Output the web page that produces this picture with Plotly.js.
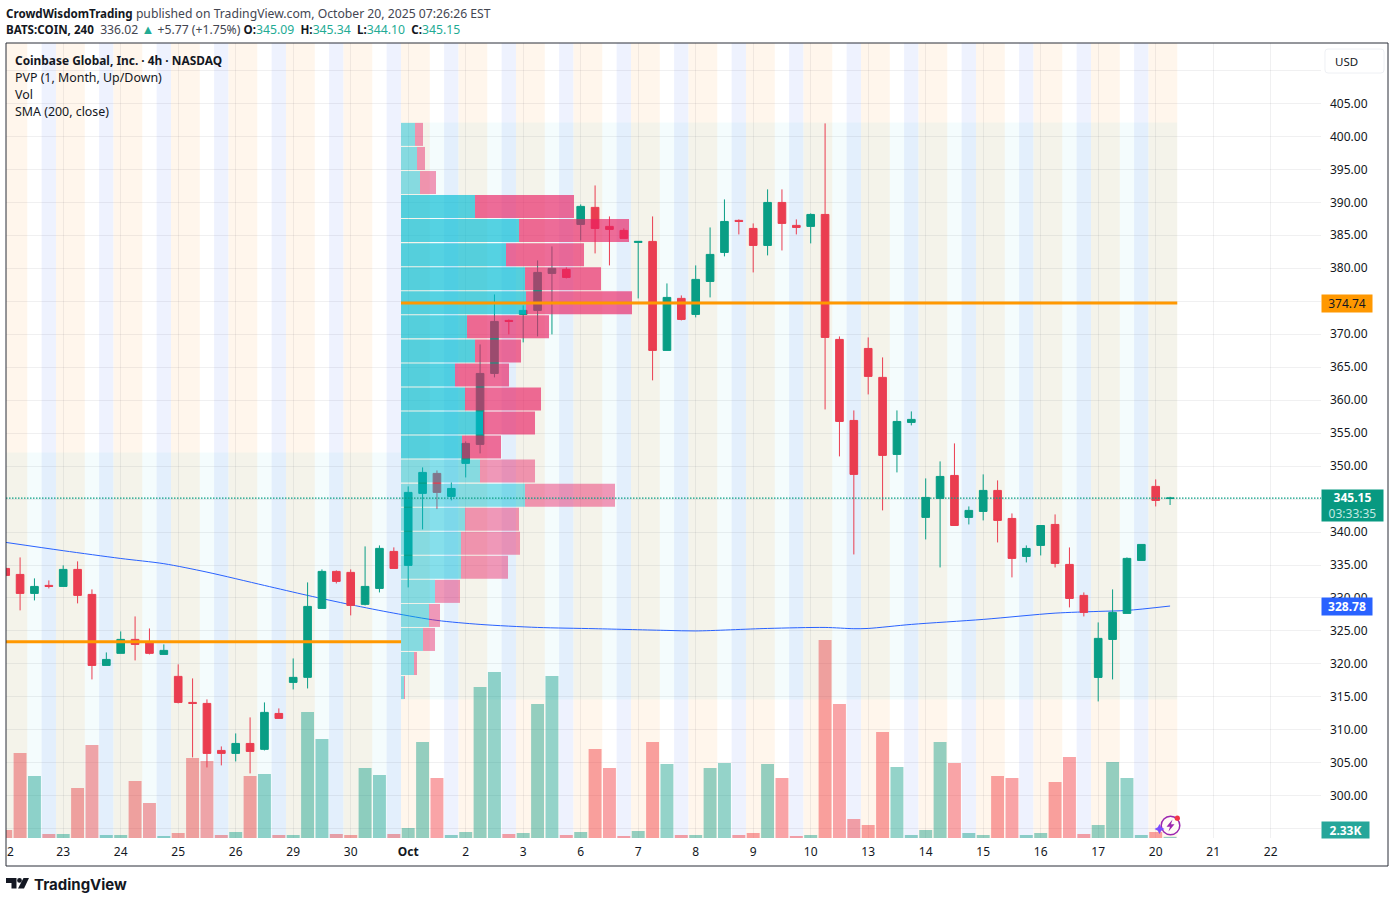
<!DOCTYPE html>
<html><head><meta charset="utf-8">
<script src="https://cdn.plot.ly/plotly-3.0.1.min.js"></script>
<style>html,body{margin:0;padding:0;background:#fff}#c{width:1394px;height:903px}</style></head>
<body><div id="c"></div>
<script>
var barIndex = [];
for (var n = 0; n < 82; n++) barIndex.push(n);
var opens  = [334.48,333.57,330.69,331.91,331.75,334.33,330.54,319.77,321.6,323.72,323.26,321.44,318.11,314.16,314.01,306.88,306.43,307.94,307.04,312.49,317.2,317.96,328.42,334.03,333.88,329.03,331.45,337.06,
334.94,345.86,348.89,345.4,350.41,353.29,364.05,372.09,373.0,373.61,379.22,379.83,386.65,389.23,386.35,385.74,383.92,384.07,367.54,375.43,373.0,378.0,382.4,387.26,386.04,383.46,389.98,386.5,386.35,388.16,
369.21,356.92,367.84,363.45,351.77,356.62,342.22,345.1,348.58,342.22,343.12,346.31,342.06,336.3,337.97,341.15,335.09,330.39,317.95,323.71,327.66,335.69,346.92,345.09];
var highs  = [334.6,336.15,332.97,332.66,334.94,335.55,331.3,321.74,324.93,327.2,325.38,322.96,319.93,317.8,314.62,307.49,309.46,311.89,314.16,313.25,320.83,332.36,334.33,334.18,334.33,337.82,337.97,337.67,
346.92,349.8,349.34,347.52,353.74,368.45,376.03,372.24,374.37,381.19,383.31,380.13,389.68,392.56,387.86,386.05,384.07,387.86,377.7,375.88,380.43,386.19,390.44,387.41,386.8,391.96,391.96,387.41,388.32,401.97,
369.66,358.44,369.51,366.48,358.44,358.29,348.13,350.71,353.44,343.88,348.74,347.83,342.82,337.97,340.99,342.67,337.66,330.84,326.29,331.3,336.15,338.12,347.98,345.34];
var lows   = [333.3,328.12,329.63,331.45,331.75,329.18,317.65,319.77,321.6,320.53,321.44,321.44,314.01,305.82,304.3,304.61,305.21,303.4,306.88,311.74,316.13,316.28,328.42,332.2,327.36,328.87,330.84,334.48,
331.6,340.4,343.48,344.8,348.28,351.92,363.45,369.97,368.76,369.67,369.97,378.46,384.22,382.25,380.43,384.53,375.43,363.0,367.54,372.09,372.55,375.58,381.8,385.13,379.37,381.95,382.7,385.13,383.77,358.59,
351.47,336.6,360.87,343.28,349.04,356.17,338.88,334.63,340.99,341.15,341.76,338.42,333.12,335.39,336.45,334.63,328.57,327.2,314.31,317.65,327.66,335.69,346.92,344.1];
var closes = [333.42,330.69,331.75,331.75,334.33,330.39,319.77,320.68,323.72,322.96,321.6,322.05,314.16,314.01,306.43,306.43,307.94,306.73,312.65,311.74,317.96,328.72,334.03,332.51,328.87,331.75,337.52,334.48,
346.01,349.04,346.01,346.61,353.44,364.05,371.94,371.94,373.61,379.37,379.98,378.61,389.38,386.04,385.89,384.53,384.07,367.54,375.58,372.24,378.31,382.1,387.1,387.1,383.46,389.98,386.8,386.19,388.16,369.51,
356.77,348.74,363.6,351.62,356.77,357.08,345.25,348.43,340.99,343.28,346.31,341.76,336.0,337.51,340.99,335.24,329.93,327.81,323.87,327.81,336.0,338.12,344.79,345.15];
var volumesK = [16,170,124,8,8,100,186,6,6,114,70,4,10,160,154,6,12,124,128,6,6,252,198,8,6,140,126,8,
20,192,120,6,12,302,332,8,10,268,324,6,12,178,140,4,14,192,148,6,6,140,150,6,10,148,120,4,6,396,268,38,26,212,142,6,16,192,150,10,6,124,120,6,10,112,162,8,26,152,120,6,12,2.33];
lows[80]=343.88; highs[80]=347.98;
var smaBars   = [0,4,8,11,14,18,21,24,27,30,33,37,41,46,48,53,57,59,60,63,68,73,76,78,81];
var smaValues = [338.43,337.17,335.99,335.2,333.92,331.9,330.39,328.98,327.7,326.6,325.99,325.53,325.34,325.08,325.0,325.38,325.53,325.34,325.38,325.99,326.75,327.7,327.96,328.11,328.78];
var profilePrices = [400.3,396.65,393.0,389.36,385.71,382.06,378.42,374.77,371.12,367.47,363.83,360.18,356.53,352.89,349.24,345.59,341.94,338.3,334.65,331.0,327.35,323.71,320.06,316.41];
var profileUp   = [14,16,19,74,118,105,124,125,66,74,54,64,82,61,79,124,64,60,60,34,28,22,13,3];
var profileDown = [8,8,16,99,110,78,76,106,82,46,54,76,52,39,55,90,54,59,47,25,11,12,3,1];
var valueAreaRows = [3,4,5,6,7,8,9,10,11,12,13];
var pocLevels = {previous:323.37, current:374.74};
var lastPrice = 345.15, lastSma = 328.78;
var dayTickBars = [4,8,12,16,20,24,28,32,36,40,44,48,52,56,60,64,68,72,76,80,84,88];
var dayTickLabels = ['23','24','25','26','29','30','<b>Oct</b>','2','3','6','7','8','9','10','13','14','15','16','17','20','21','22'];
var priceTicks = [295,300,305,310,315,320,325,330,335,340,345,350,355,360,365,370,375,380,385,390,395,400,405,410];
var priceLabels = ['','300.00','305.00','310.00','315.00','320.00','325.00','330.00','335.00','340.00','','350.00','355.00','360.00','365.00','370.00','','380.00','385.00','390.00','395.00','400.00','405.00',''];

var UP='#099E85', DOWN='#EA3D50', FONT='"Noto Sans", sans-serif', INK='#131722';
var PLOT_L=6, PLOT_R=1321, PLOT_T=43, PLOT_B=838, BAR_PX=14.375;
var xRange=[(PLOT_L-5.7)/BAR_PX,(PLOT_R-5.7)/BAR_PX];
var priceRange=[293.6,414.16];
var volRange=[0,1590];
function ax(x){return (x-PLOT_L)/(PLOT_R-PLOT_L);}
function ay(y){return (PLOT_B-y)/(PLOT_B-PLOT_T);}
function P(pts,close){
  return pts.map(function(p,i){return (i?'L':'M')+ax(p[0]).toFixed(5)+','+ay(p[1]).toFixed(5);}).join(' ')+(close?' Z':'');
}
function roundRect(x0,y0,x1,y1,r){
  function c(x,y){return ax(x).toFixed(5)+','+ay(y).toFixed(5);}
  return 'M'+c(x0+r,y0)+' L'+c(x1-r,y0)+' Q'+c(x1,y0)+' '+c(x1,y0+r)+' L'+c(x1,y1-r)+' Q'+c(x1,y1)+' '+c(x1-r,y1)+' L'+c(x0+r,y1)+' Q'+c(x0,y1)+' '+c(x0,y1-r)+' L'+c(x0,y0+r)+' Q'+c(x0,y0)+' '+c(x0+r,y0)+' Z';
}
function circle(cx,cy,r){
  return {type:'circle',xref:'paper',yref:'paper',x0:ax(cx-r),x1:ax(cx+r),y0:ay(cy+r),y1:ay(cy-r)};
}

var shapes=[];
for (var d=0;d<=80;d+=4){
  shapes.push({type:'rect',layer:'below',xref:'x',yref:'paper',x0:d-0.5,x1:d+1.5,y0:0,y1:1,fillcolor:'#FFF6EC',line:{width:0}});
  if(d<80) shapes.push({type:'rect',layer:'below',xref:'x',yref:'paper',x0:d+2.5,x1:d+3.5,y0:0,y1:1,fillcolor:'#EEF2FE',line:{width:0}});
}
shapes.push({type:'rect',layer:'above',xref:'paper',yref:'paper',x0:ax(6),x1:ax(1388),y0:ay(866),y1:ay(43),line:{color:'#2A2E39',width:1},fillcolor:'rgba(0,0,0,0)'});
shapes.push({type:'path',layer:'above',xref:'paper',yref:'paper',path:roundRect(1325,49,1384,73,3),fillcolor:'#fff',line:{color:'#EEF0F4',width:1}});
shapes.push({type:'path',layer:'above',xref:'paper',yref:'paper',path:P([[6,878],[16.5,878],[16.5,888.5],[11.5,888.5],[11.5,883],[6,883]],true),fillcolor:INK,line:{width:0}});
shapes.push(Object.assign(circle(19.5,880.4,2.4),{layer:'above',fillcolor:INK,line:{width:0}}));
shapes.push({type:'path',layer:'above',xref:'paper',yref:'paper',path:P([[23.5,878],[29,878],[24,888.5],[18,888.5]],true),fillcolor:INK,line:{width:0}});
shapes.push(Object.assign(circle(1170.5,825.5,9.3),{layer:'above',fillcolor:'rgba(255,255,255,0.55)',line:{color:'#9C27B0',width:1.5}}));
shapes.push({type:'path',layer:'above',xref:'paper',yref:'paper',path:P([[1172.5,819.5],[1166.5,826.8],[1170,826.8],[1168.5,831.5],[1174.5,824.2],[1171,824.2]],true),fillcolor:'#9C27B0',line:{width:0}});
shapes.push(Object.assign(circle(1177.3,818.2,2.6),{layer:'above',fillcolor:'#F23645',line:{width:0}}));
shapes.push({type:'path',layer:'above',xref:'paper',yref:'paper',path:P([[1159.5,824],[1161.2,827.3],[1164.5,829],[1161.2,830.7],[1159.5,834],[1157.8,830.7],[1154.5,829],[1157.8,827.3]],true),fillcolor:'#7C4DFF',line:{width:0}});

function note(x,y,text,opt){
  return Object.assign({xref:'paper',yref:'paper',x:ax(x),y:ay(y),text:text,showarrow:false,xanchor:'left',yanchor:'middle',align:'left',borderpad:0,font:{family:FONT,size:12.2,color:INK}},opt||{});
}
function tag(y,h,w,text,bg,color,size){
  return note(1321,y,text,{width:w,height:h,bgcolor:bg,align:'center',valign:'middle',font:{family:FONT,size:size||12,color:color}});
}
var V='#22AB94', B='<b style="font-size:11.6px">', NB='\u00A0';
var annotations=[
 note(5,13,B+'CrowdWisdomTrading</b> <span style="color:#434651">published on TradingView.com, October 20, 2025 07:26:26 EST</span>'),
 note(5,29,B+'BATS:COIN, 240</b> '+NB+'<span style="color:#434651">336.02 </span><span style="color:'+V+';font-size:13px">▲</span><span style="color:#434651"> +5.77 (+1.75%)</span> '+B+'O:</b>'+'<span style="color:'+V+'">345.09</span> '+NB+B+'H:</b><span style="color:'+V+'">345.34</span> '+NB+B+'L:</b><span style="color:'+V+'">344.10</span> '+NB+B+'C:</b><span style="color:'+V+'">345.15</span>'),
 note(14,60,'<b style="font-size:11.9px">Coinbase Global, Inc. · 4h · NASDAQ</b>'),
 note(14,77,'PVP (1, Month, Up/Down)',{font:{family:FONT,size:12.4,color:INK}}),
 note(14,94.5,'Vol',{font:{family:FONT,size:12.4,color:INK}}),
 note(14,111.5,'SMA (200, close)',{font:{family:FONT,size:12.4,color:INK}}),
 note(1333.5,61,'USD',{font:{family:FONT,size:11.5,color:INK}}),
 note(6,851,'2',{font:{family:FONT,size:12,color:INK}}),
 tag(303.5,17,50,'374.74','#FF9800',INK),
 tag(505.5,31,61,'<b>345.15</b><br><span style="color:#C3E8E1">03:33:35</span>','#089981','#fff'),
 tag(606.5,17,50,'<b>328.78</b>','#2962FF','#fff'),
 tag(830,16,47,'<b>2.33K</b>','#26A69A','#fff'),
 note(33,884,'<b>TradingView</b>',{font:{family:'Inter, sans-serif',size:15,color:INK}})
];

var volColors=closes.map(function(c,i){return c>=opens[i]?'rgba(8,153,129,0.43)':'rgba(242,54,60,0.45)';});
var upColors=[],downColors=[];
profileUp.forEach(function(_,k){
  var strong=valueAreaRows.indexOf(k)>=0;
  upColors.push(strong?'rgba(0,188,212,0.65)':'rgba(0,188,212,0.45)');
  downColors.push(strong?'rgba(233,30,99,0.65)':'rgba(233,30,99,0.45)');
});
var rowPrice=3.49, PROFILE_X=27.5;
var traces=[
 {type:'bar',x:barIndex,y:volumesK,xaxis:'x',yaxis:'y',marker:{color:volColors,line:{width:0}},hoverinfo:'skip'},
 {type:'bar',x:[13.5],base:[285],y:[67.07],width:[28],xaxis:'x',yaxis:'y2',marker:{color:'rgba(0,188,212,0.043)',line:{width:0}},hoverinfo:'skip'},
 {type:'bar',x:[54.5],base:[314.6],y:[87.5],width:[54],xaxis:'x',yaxis:'y2',marker:{color:'rgba(0,188,212,0.043)',line:{width:0}},hoverinfo:'skip'},
 {type:'scatter',mode:'lines',x:smaBars,y:smaValues,xaxis:'x',yaxis:'y2',line:{color:'#2962FF',width:1,shape:'spline',smoothing:0.8},hoverinfo:'skip'},
 {type:'candlestick',x:barIndex,open:opens,high:highs,low:lows,close:closes,xaxis:'x',yaxis:'y3',whiskerwidth:0,
  increasing:{line:{color:UP,width:1},fillcolor:UP},decreasing:{line:{color:DOWN,width:1},fillcolor:DOWN},hoverinfo:'skip'},
 {type:'bar',orientation:'h',y:profilePrices,x:profileUp.map(function(v){return v/BAR_PX;}),base:profilePrices.map(function(){return PROFILE_X;}),width:rowPrice,xaxis:'x',yaxis:'y4',marker:{color:upColors,line:{width:0}},hoverinfo:'skip'},
 {type:'bar',orientation:'h',y:profilePrices,x:profileDown.map(function(v){return v/BAR_PX;}),base:profileUp.map(function(v){return PROFILE_X+v/BAR_PX;}),width:rowPrice,xaxis:'x',yaxis:'y4',marker:{color:downColors,line:{width:0}},hoverinfo:'skip'},
 {type:'scatter',mode:'lines',x:[xRange[0],PROFILE_X],y:[pocLevels.previous,pocLevels.previous],xaxis:'x',yaxis:'y4',line:{color:'#FF9800',width:3},hoverinfo:'skip'},
 {type:'scatter',mode:'lines',x:[PROFILE_X,81.5],y:[pocLevels.current,pocLevels.current],xaxis:'x',yaxis:'y4',line:{color:'#FF9800',width:3},hoverinfo:'skip'},
 {type:'scatter',mode:'lines',x:xRange,y:[lastPrice,lastPrice],xaxis:'x',yaxis:'y4',line:{color:'#089E84',width:1.2,dash:'1.5px,1.5px'},hoverinfo:'skip'}
];
var GRID='rgba(42,46,57,0.07)';
var hiddenPrice={overlaying:'y',anchor:'x',side:'right',range:priceRange,visible:false,fixedrange:true};
var layout={
 width:1394,height:903,autosize:false,
 margin:{l:PLOT_L,r:1394-PLOT_R,t:PLOT_T,b:903-PLOT_B,pad:0},
 paper_bgcolor:'#fff',plot_bgcolor:'rgba(0,0,0,0)',showlegend:false,
 barmode:'overlay',bargap:0.1,boxgap:0.24,boxmode:'overlay',dragmode:false,
 font:{family:FONT,size:12,color:INK},
 xaxis:{type:'linear',range:xRange,tickmode:'array',tickvals:dayTickBars,ticktext:dayTickLabels,showgrid:true,gridcolor:GRID,gridwidth:1,
        zeroline:false,showline:false,ticks:'',tickfont:{family:FONT,size:12,color:INK},rangeslider:{visible:false},fixedrange:true,tickangle:0,ticklabelstandoff:5},
 yaxis:{range:volRange,visible:false,showgrid:false,zeroline:false,fixedrange:true},
 yaxis2:{overlaying:'y',anchor:'x',side:'right',range:priceRange,tickmode:'array',tickvals:priceTicks,ticktext:priceLabels,showgrid:true,gridcolor:GRID,gridwidth:1,
         zeroline:false,showline:false,ticks:'',tickfont:{family:FONT,size:12,color:INK},fixedrange:true,ticklabelstandoff:8},
 yaxis3:hiddenPrice,
 yaxis4:Object.assign({},hiddenPrice),
 shapes:shapes,annotations:annotations
};
Plotly.newPlot('c',traces,layout,{displayModeBar:false,staticPlot:true});
</script></body></html>
